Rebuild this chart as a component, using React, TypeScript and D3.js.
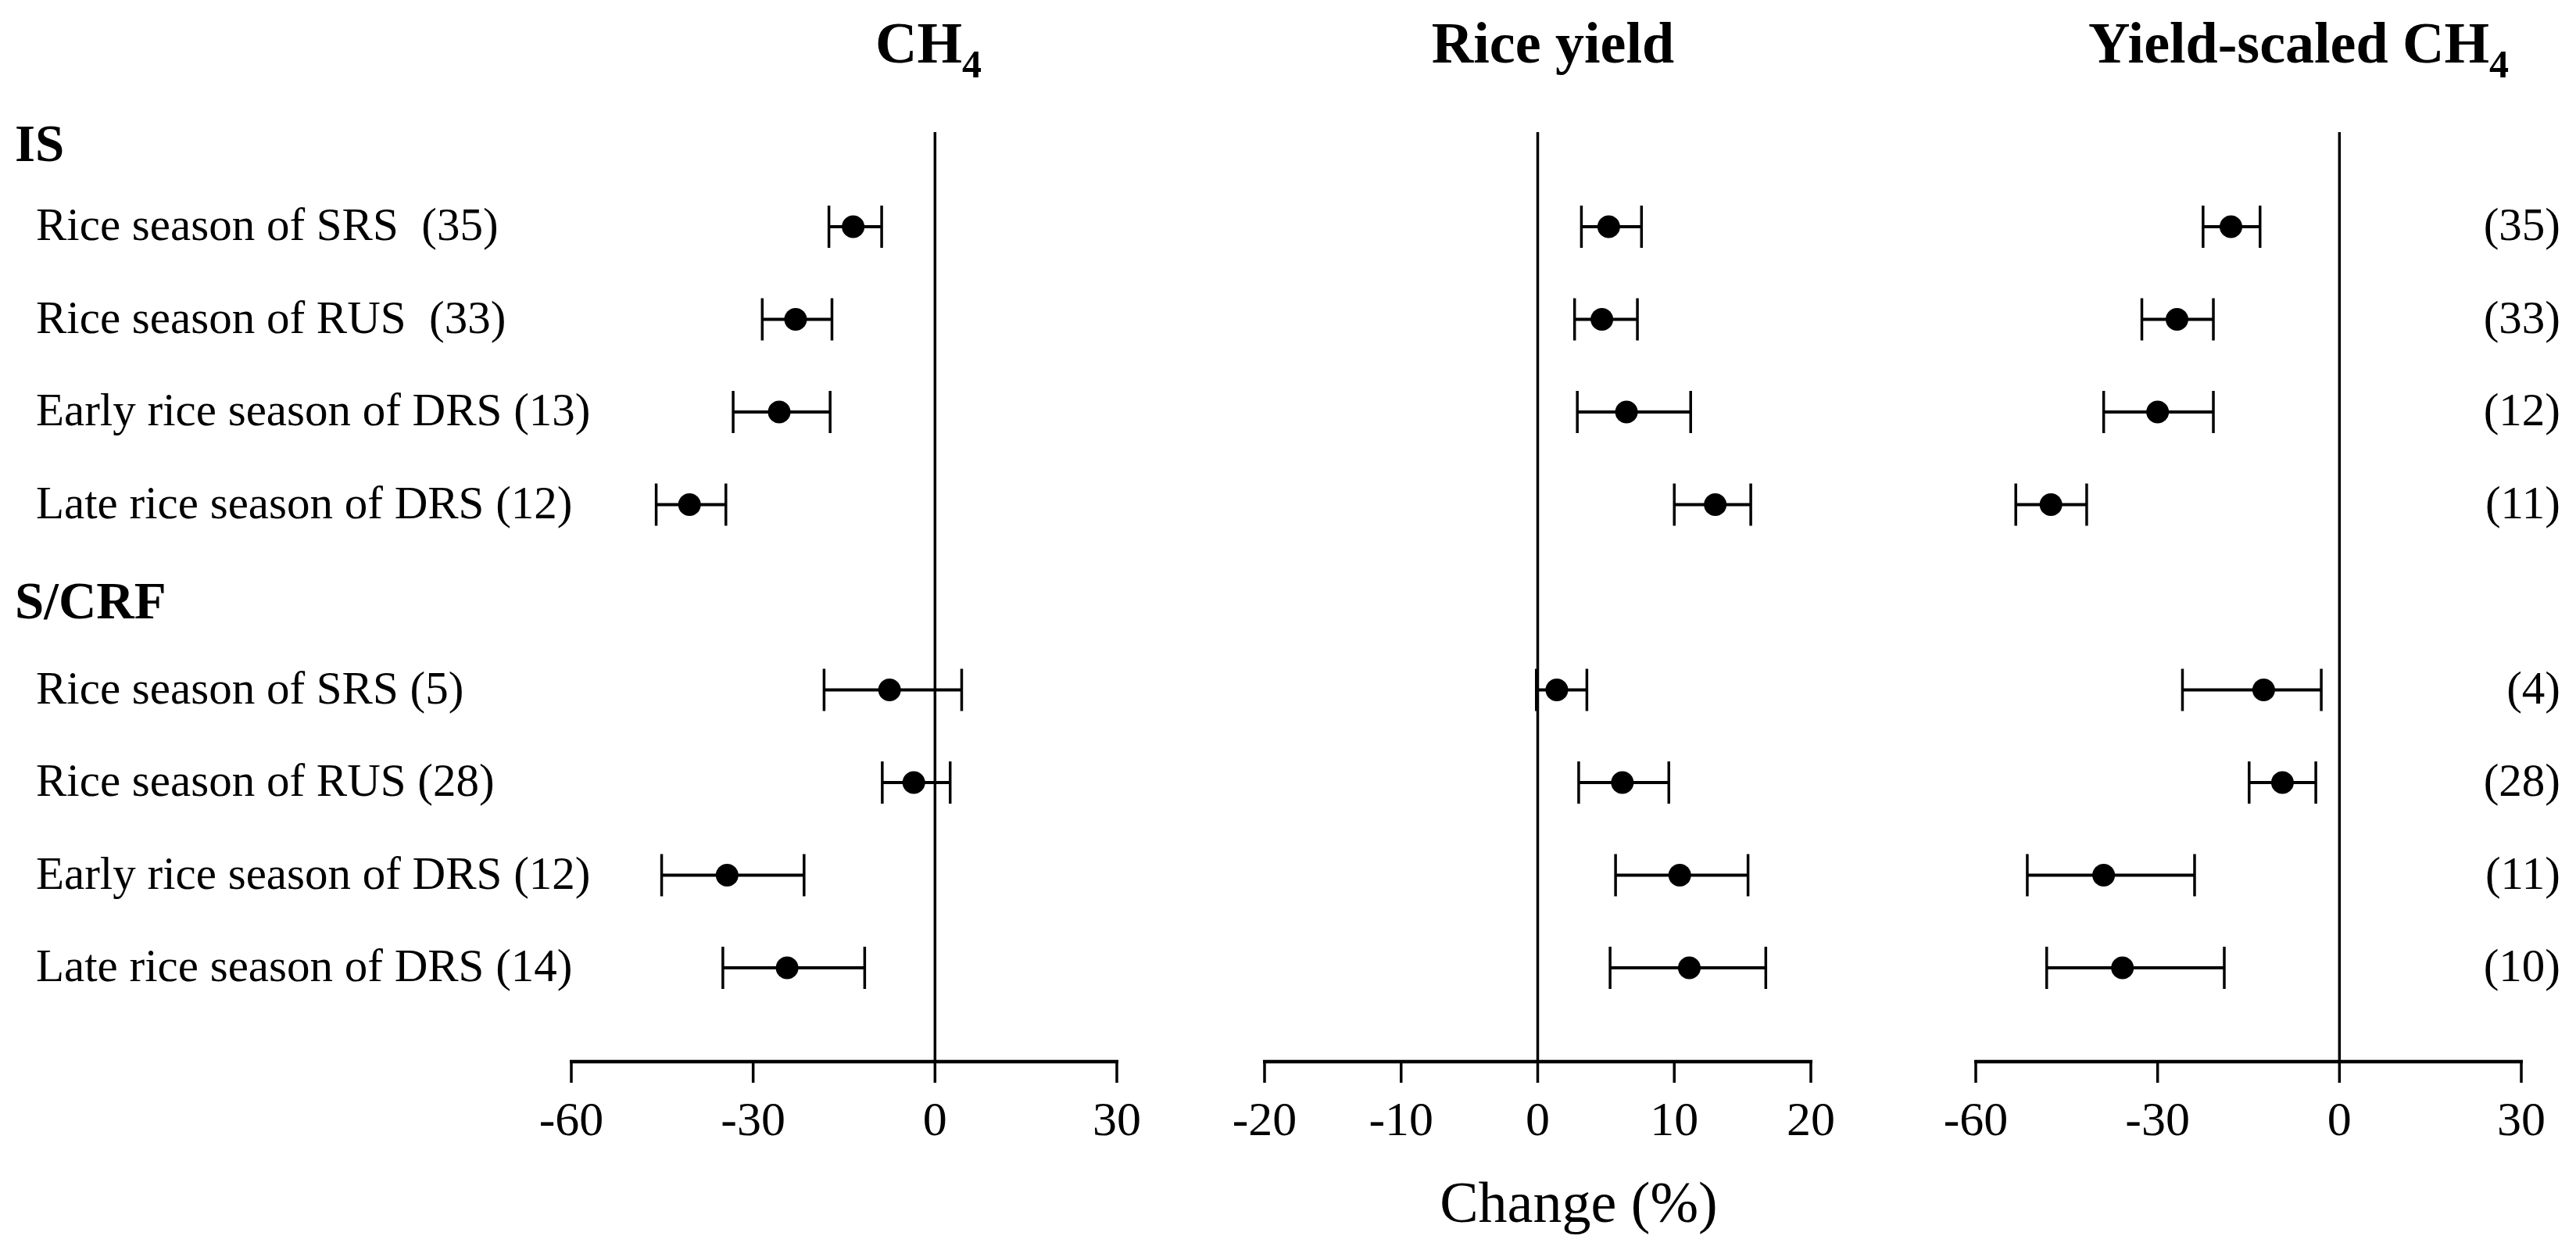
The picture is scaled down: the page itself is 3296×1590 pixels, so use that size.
import React from "react";
import * as d3 from "d3";

const groups = ["IS", "S/CRF"];
const rowLabels = [
  ["Rice season of SRS  (35)", "Rice season of RUS  (33)", "Early rice season of DRS (13)", "Late rice season of DRS (12)"],
  ["Rice season of SRS (5)", "Rice season of RUS (28)", "Early rice season of DRS (12)", "Late rice season of DRS (14)"],
];
const rightLabels = [
  ["(35)", "(33)", "(12)", "(11)"],
  ["(4)", "(28)", "(11)", "(10)"],
];

// [mean, low, high] per row (IS rows then S/CRF rows)
const ch4 = [
  [-13.5, -17.5, -8.8],
  [-23.0, -28.5, -17.0],
  [-25.7, -33.3, -17.3],
  [-40.5, -46.0, -34.5],
  [-7.5, -18.3, 4.4],
  [-3.5, -8.7, 2.5],
  [-34.3, -45.1, -21.6],
  [-24.4, -35.0, -11.6],
];
const riceYield = [
  [5.2, 3.2, 7.6],
  [4.7, 2.7, 7.3],
  [6.5, 2.9, 11.2],
  [13.0, 10.0, 15.6],
  [1.4, -0.1, 3.6],
  [6.2, 3.0, 9.6],
  [10.4, 5.7, 15.4],
  [11.1, 5.3, 16.7],
];
const yieldScaledCh4 = [
  [-17.9, -22.5, -13.1],
  [-26.8, -32.6, -20.8],
  [-30.0, -38.9, -20.8],
  [-47.6, -53.4, -41.7],
  [-12.5, -25.9, -3.0],
  [-9.4, -14.9, -3.9],
  [-38.9, -51.5, -23.9],
  [-35.8, -48.3, -19.0],
];

const ticksCh4 = [-60, -30, 0, 30];
const ticksYield = [-20, -10, 0, 10, 20];
const ticksYs = [-60, -30, 0, 30];

const xLabel = "Change (%)";

const FONT = "'Liberation Serif', 'Times New Roman', serif";

const W = 3296;
const H = 1590;
const axisY = 1358;
const zeroTop = 169;

const panels = [
  { key: "ch4", title: "CH", sub: "4", data: ch4, ticks: ticksCh4, domain: [-60, 30], range: [731, 1429], titleX: 1188 },
  { key: "yield", title: "Rice yield", sub: "", data: riceYield, ticks: ticksYield, domain: [-20, 20], range: [1618, 2317], titleX: 1987 },
  { key: "ys", title: "Yield-scaled CH", sub: "4", data: yieldScaledCh4, ticks: ticksYs, domain: [-60, 30], range: [2528, 3226], titleX: 2941 },
];

// slot scale: 0 = IS header, 1..4 rows, 5 = S/CRF header, 6..9 rows
const yScale = d3.scaleLinear().domain([1, 6]).range([290, 882.5]);
const slotOf = (g: number, i: number) => g * 5 + 1 + i;

export default function App() {
  return (
    <svg width={W} height={H} style={{ position: "absolute", left: 0, top: 0, background: "#fff" }} fontFamily={FONT}>
      <rect x={0} y={0} width={W} height={H} fill="#fff" />
      {/* group headers */}
      {groups.map((g, gi) => (
        <text key={g} x={19} y={yScale(gi * 5) + (gi === 0 ? 34 : 27)} fontSize={67} fontWeight="bold" fill="#000">
          {g}
        </text>
      ))}
      {/* row labels */}
      {rowLabels.map((rows, gi) =>
        rows.map((lab, i) => (
          <text key={`l${gi}${i}`} x={46} y={yScale(slotOf(gi, i)) + 17} fontSize={59} fill="#000" style={{ whiteSpace: "pre" }}>
            {lab}
          </text>
        ))
      )}
      {/* right labels */}
      {rightLabels.map((rows, gi) =>
        rows.map((lab, i) => (
          <text key={`r${gi}${i}`} x={3276} y={yScale(slotOf(gi, i)) + 17} fontSize={59} fill="#000" textAnchor="end">
            {lab}
          </text>
        ))
      )}
      {panels.map((p) => {
        const x = d3.scaleLinear().domain(p.domain).range(p.range);
        return (
          <g key={p.key}>
            <text x={p.titleX} y={80} fontSize={74} fontWeight="bold" textAnchor="middle" fill="#000">
              {p.title}
              {p.sub && (
                <tspan fontSize={50} dy={19}>
                  {p.sub}
                </tspan>
              )}
            </text>
            {/* zero line */}
            <line x1={x(0)} x2={x(0)} y1={zeroTop} y2={axisY} stroke="#000" strokeWidth={3.5} />
            {/* axis */}
            <line x1={x(p.domain[0]) - 2} x2={x(p.domain[1]) + 2} y1={axisY} y2={axisY} stroke="#000" strokeWidth={4.5} />
            {p.ticks.map((t) => (
              <g key={t}>
                <line x1={x(t)} x2={x(t)} y1={axisY} y2={axisY + 27} stroke="#000" strokeWidth={3.5} />
                <text x={x(t)} y={1452} fontSize={62} textAnchor="middle" fill="#000">
                  {t}
                </text>
              </g>
            ))}
            {/* error bars */}
            {p.data.map((d, idx) => {
              const gi = idx < 4 ? 0 : 1;
              const i = idx % 4;
              const cy = yScale(slotOf(gi, i));
              const [m, lo, hi] = d;
              return (
                <g key={idx}>
                  <line x1={x(lo)} x2={x(hi)} y1={cy} y2={cy} stroke="#000" strokeWidth={4} />
                  <line x1={x(lo)} x2={x(lo)} y1={cy - 27} y2={cy + 27} stroke="#000" strokeWidth={3.5} />
                  <line x1={x(hi)} x2={x(hi)} y1={cy - 27} y2={cy + 27} stroke="#000" strokeWidth={3.5} />
                  <circle cx={x(m)} cy={cy} r={14.5} fill="#000" />
                </g>
              );
            })}
          </g>
        );
      })}
      <text x={2020} y={1563} fontSize={74} textAnchor="middle" fill="#000">
        {xLabel}
      </text>
    </svg>
  );
}
